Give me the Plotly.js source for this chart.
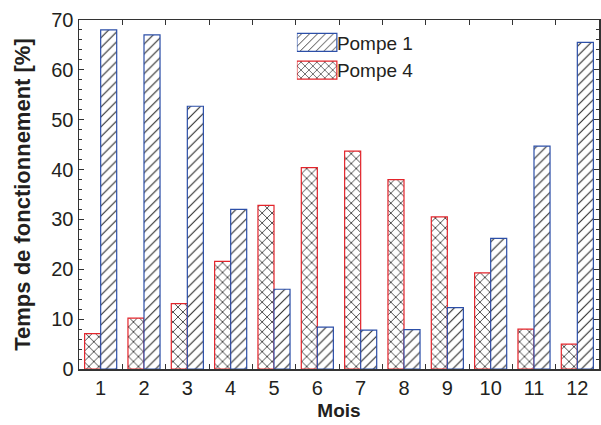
<!DOCTYPE html>
<html>
<head>
<meta charset="utf-8">
<script src="https://cdn.plot.ly/plotly-3.0.1.min.js"></script>
<style>html,body{margin:0;padding:0;background:#fff;}#chart{width:601px;height:425px;}</style>
</head>
<body>
<div id="chart"></div>
<script>
const months = ['1','2','3','4','5','6','7','8','9','10','11','12'];
const pompe1 = [68, 67, 52.7, 32, 16, 8.4, 7.8, 7.9, 12.3, 26.2, 44.7, 65.5];
const pompe4 = [7.1, 10.2, 13.1, 21.6, 32.8, 40.4, 43.7, 38, 30.5, 19.3, 8, 5];
const yTitle = 'Temps de fonctionnement [%]';
const xTitle = 'Mois';

const font = 'Liberation Sans, Arial, sans-serif';
const traces = [
  {
    type: 'bar', name: 'Pompe 4', x: months, y: pompe4,
    marker: {color: 'white', line: {color: '#e3242b', width: 1.2},
             pattern: {shape: 'x', fgcolor: '#111', bgcolor: 'white', size: 7, solidity: 0.2}}
  },
  {
    type: 'bar', name: 'Pompe 1', x: months, y: pompe1,
    marker: {color: 'white', line: {color: '#2c4fa8', width: 1.2},
             pattern: {shape: '/', fgcolor: '#222', bgcolor: 'white', size: 7, solidity: 0.15}}
  }
];
const layout = {
  width: 601, height: 425,
  margin: {l: 79, r: 2, t: 20, b: 56},
  paper_bgcolor: 'white', plot_bgcolor: 'white',
  font: {family: font, color: '#231f20', size: 20},
  barmode: 'group', bargap: 0.26, bargroupgap: 0,
  showlegend: true,
  legend: {x: 0.419, xanchor: 'left', y: 0.99, yanchor: 'top', traceorder: 'reversed',
           bgcolor: 'rgba(0,0,0,0)', font: {size: 19, family: font}, itemwidth: 30, tracegroupgap: 0},
  xaxis: {
    type: 'category', categoryorder: 'array', categoryarray: months,
    tickson: 'boundaries', ticks: 'inside', ticklen: 5, tickcolor: '#333',
    showline: true, linecolor: '#333', linewidth: 1.5, mirror: 'ticks',
    showgrid: false, zeroline: false,
    tickfont: {size: 20, family: font},
    title: {text: xTitle, font: {size: 19, family: font, weight: 'bold'}, standoff: 6}
  },
  yaxis: {
    range: [0, 70], dtick: 10, tick0: 0,
    ticks: 'inside', ticklen: 5, tickcolor: '#333',
    minor: {dtick: 2, ticks: 'inside', ticklen: 3, tickcolor: '#333', showgrid: false},
    showline: true, linecolor: '#333', linewidth: 1.5, mirror: 'ticks',
    showgrid: false, zeroline: false,
    tickfont: {size: 20, family: font},
    title: {text: yTitle, font: {size: 22, family: font, weight: 'bold'}, standoff: 14}
  }
};
Plotly.newPlot('chart', traces, layout, {displayModeBar: false, staticPlot: true}).then(function (gd) {
  // widen legend swatches to resemble the original wide hatched boxes
  gd.querySelectorAll('.legend .legendpoints path').forEach(function (p) {
    p.setAttribute('d', 'M20,9H-20V-9H20Z');
  });
});
</script>
</body>
</html>
